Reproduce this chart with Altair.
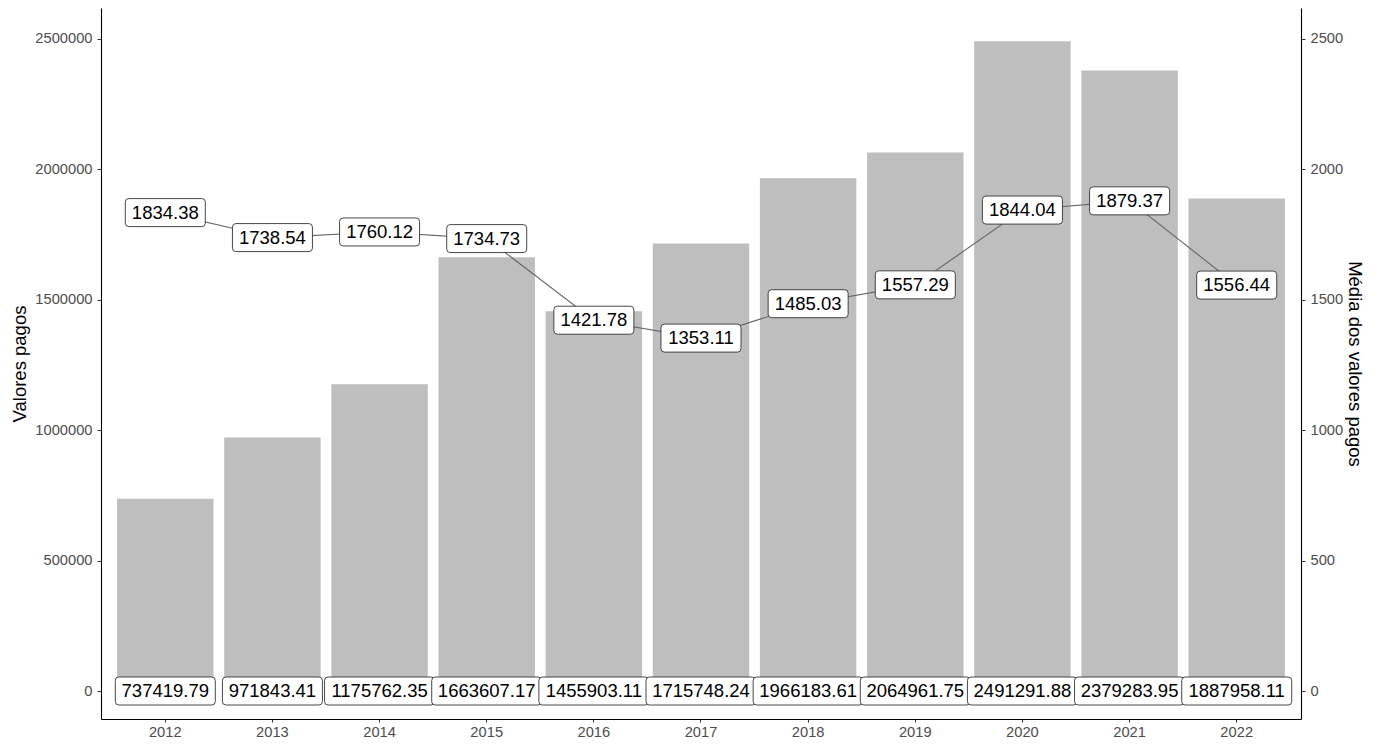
import altair as alt
import pandas as pd

anos = ["2012", "2013", "2014", "2015", "2016", "2017", "2018", "2019", "2020", "2021", "2022"]
valores = [737419.79, 971843.41, 1175762.35, 1663607.17, 1455903.11, 1715748.24,
           1966183.61, 2064961.75, 2491291.88, 2379283.95, 1887958.11]
medias = [1834.38, 1738.54, 1760.12, 1734.73, 1421.78, 1353.11,
          1485.03, 1557.29, 1844.04, 1879.37, 1556.44]
ticks_esq = [0, 500000, 1000000, 1500000, 2000000, 2500000]
ticks_dir = [0, 500, 1000, 1500, 2000, 2500]

df = pd.DataFrame({"ano": anos, "valor": valores, "media": medias})

FONT = "Liberation Sans"
UNIT = 56.0  # pixels per path unit
SIZE = (2 * UNIT) ** 2


def box_path(w, h, r):
    a = w / 2 / UNIT
    b = h / 2 / UNIT
    c = r / UNIT
    f = lambda v: f"{v:.4f}"
    return (f"M{f(-a + c)},{f(-b)}L{f(a - c)},{f(-b)}Q{f(a)},{f(-b)} {f(a)},{f(-b + c)}"
            f"L{f(a)},{f(b - c)}Q{f(a)},{f(b)} {f(a - c)},{f(b)}"
            f"L{f(-a + c)},{f(b)}Q{f(-a)},{f(b)} {f(-a)},{f(b - c)}"
            f"L{f(-a)},{f(-b + c)}Q{f(-a)},{f(-b)} {f(-a + c)},{f(-b)}Z")


BOX_H = 28
RAD = 3.5
path7 = box_path(80, BOX_H, RAD)
path9 = box_path(100, BOX_H, RAD)
path10 = box_path(110, BOX_H, RAD)

xaxis = alt.Axis(title=None, labelAngle=0, labelPadding=2, tickSize=3)
xscale = alt.Scale(paddingInner=0.1, paddingOuter=0.15)
X = alt.X("ano:O", scale=xscale, axis=xaxis)

# plot area 711 px tall: 2 500 000 at 31 px from top, 0 at 683 px from top
yscale_l = alt.Scale(domain=[-107362, 2618865], nice=False, zero=False)
yscale_r = alt.Scale(domain=[-107.362, 2618.865], nice=False, zero=False)

axis_l = alt.Axis(title="Valores pagos", values=ticks_esq, format="d",
                  orient="left", titlePadding=5)
axis_r = alt.Axis(title="Média dos valores pagos", values=ticks_dir, format="d",
                  orient="right", titlePadding=2)

bars = alt.Chart().mark_bar(color="#BEBEBE").encode(
    x=X,
    y=alt.Y("valor:Q", scale=yscale_l, axis=axis_l),
)

zero_base = alt.Chart().transform_calculate(
    zero="0", label="format(datum.valor, '.2f')", n="length(format(datum.valor, '.2f'))"
)

bar_box = zero_base.mark_point(
    filled=True, fill="white", stroke="#333333", strokeWidth=0.9, opacity=1, size=SIZE
).encode(
    x=X,
    y=alt.Y("zero:Q", scale=yscale_l, axis=axis_l),
    shape=alt.Shape("n:O", scale=alt.Scale(domain=[9, 10], range=[path9, path10]), legend=None),
)

bar_text = zero_base.mark_text(
    font=FONT, fontSize=18.5, color="black", align="center", baseline="middle"
).encode(
    x=X,
    y=alt.Y("zero:Q", scale=yscale_l, axis=axis_l),
    text="label:N",
)

left = alt.layer(bars, bar_box, bar_text)

line = alt.Chart().mark_line(color="#666666", strokeWidth=1.1).encode(
    x=X,
    y=alt.Y("media:Q", scale=yscale_r, axis=axis_r),
)

m_base = alt.Chart().transform_calculate(label="format(datum.media, '.2f')")

m_box = m_base.mark_point(
    filled=True, fill="white", stroke="#333333", strokeWidth=0.9, opacity=1,
    size=SIZE, shape=path7
).encode(
    x=X,
    y=alt.Y("media:Q", scale=yscale_r, axis=axis_r),
)

m_text = m_base.mark_text(
    font=FONT, fontSize=18.5, color="black", align="center", baseline="middle"
).encode(
    x=X,
    y=alt.Y("media:Q", scale=yscale_r, axis=axis_r),
    text="label:N",
)

right = alt.layer(line, m_box, m_text)

chart = alt.layer(left, right, data=df).resolve_scale(y="independent").properties(
    width=1200,
    height=711,
    autosize=alt.AutoSizeParams(type="none"),
    padding={"left": 93, "top": 0, "right": 66, "bottom": 21},
).configure_view(stroke=None).configure_axis(
    grid=False,
    domainColor="black",
    domainWidth=1.1,
    tickColor="#333333",
    tickWidth=1,
    tickSize=4,
    labelPadding=5,
    labelColor="#4D4D4D",
    labelFont=FONT,
    labelFontSize=14.7,
    titleFont=FONT,
    titleFontSize=18.5,
    titleFontWeight="normal",
    titleColor="black",
)

chart.save("out.html", embed_options={"renderer": "svg", "actions": False})
